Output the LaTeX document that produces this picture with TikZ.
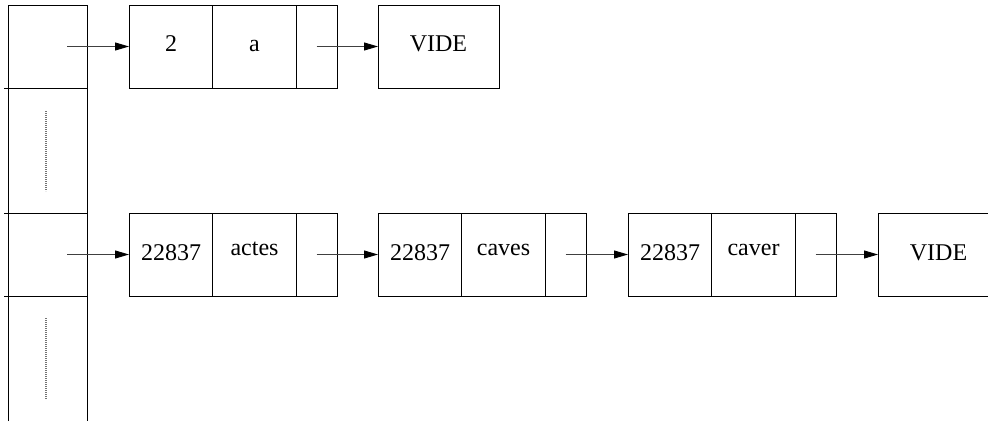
\documentclass[tikz,border=0pt]{standalone}
\usepackage{fontspec}
\setmainfont{Liberation Serif}
\usetikzlibrary{arrows.meta}
\begin{document}
\begin{tikzpicture}[x=0.75pt,y=-0.75pt,
  line width=0.6pt,
  cell/.style={draw, inner sep=0pt, outer sep=0pt, anchor=north west, minimum height=62.25pt},
  wide/.style={cell, minimum width=62.625pt},
  ptr/.style={cell, minimum width=30.75pt},
  vide/.style={cell, minimum width=90.75pt},
  lbl/.style={inner sep=0pt, anchor=base, font=\fontsize{18pt}{20pt}\selectfont},
  arr/.style={-{Triangle[length=10.5pt,width=6pt,color=black]}, line width=0.7pt, draw=black!75},
  dots/.style={draw=black!55, line width=0.9pt, dash pattern=on 0.6pt off 0.9pt}
]
\clip (0,0) rectangle (988,421);
% left column (hash table)
\draw (8,421) -- (8,5) -- (87,5) -- (87,421);
\draw (4,88) -- (87,88);
\draw (4,213) -- (87,213);
\draw (4,296) -- (87,296);
\draw[dots] (46,111) -- (46,191);
\draw[dots] (46,318) -- (46,399);

% top row
\node[wide] (a1) at (129,5) {};
\node[wide] (a2) at (212.5,5) {};
\node[ptr]  (a3) at (296,5) {};
\node[vide] (av) at (378,5) {};
\node[lbl] (ta1) at (171,51) {2};
\node[lbl] (ta2) at (254.5,51) {a};
\node[lbl] (tav) at (438.5,51) {VIDE};

% bottom row
\node[wide] (b1) at (129,213) {};
\node[wide] (b2) at (212.5,213) {};
\node[ptr]  (b3) at (296,213) {};
\node[wide] (c1) at (378,213) {};
\node[wide] (c2) at (461.5,213) {};
\node[ptr]  (c3) at (545,213) {};
\node[wide] (d1) at (628,213) {};
\node[wide] (d2) at (711.5,213) {};
\node[ptr]  (d3) at (795,213) {};
\node[vide] (dv) at (878,213) {};
\node[lbl] (tb1) at (171,260) {22837};
\node[lbl] (tb2) at (254.5,255) {actes};
\node[lbl] (tc1) at (420,260) {22837};
\node[lbl] (tc2) at (503.5,255) {caves};
\node[lbl] (td1) at (670,260) {22837};
\node[lbl] (td2) at (753.5,255) {caver};
\node[lbl] (tdv) at (938.5,260) {VIDE};

\coordinate (s1) at (67,46.5);
\coordinate (s2) at (67,254.5);

% arrows
\draw[arr] (s1) -- (a1.west);
\draw[arr] (a3.center) -- (av.west);
\draw[arr] (s2) -- (b1.west);
\draw[arr] (b3.center) -- (c1.west);
\draw[arr] (c3.center) -- (d1.west);
\draw[arr] (d3.center) -- (dv.west);
\end{tikzpicture}
\end{document}
